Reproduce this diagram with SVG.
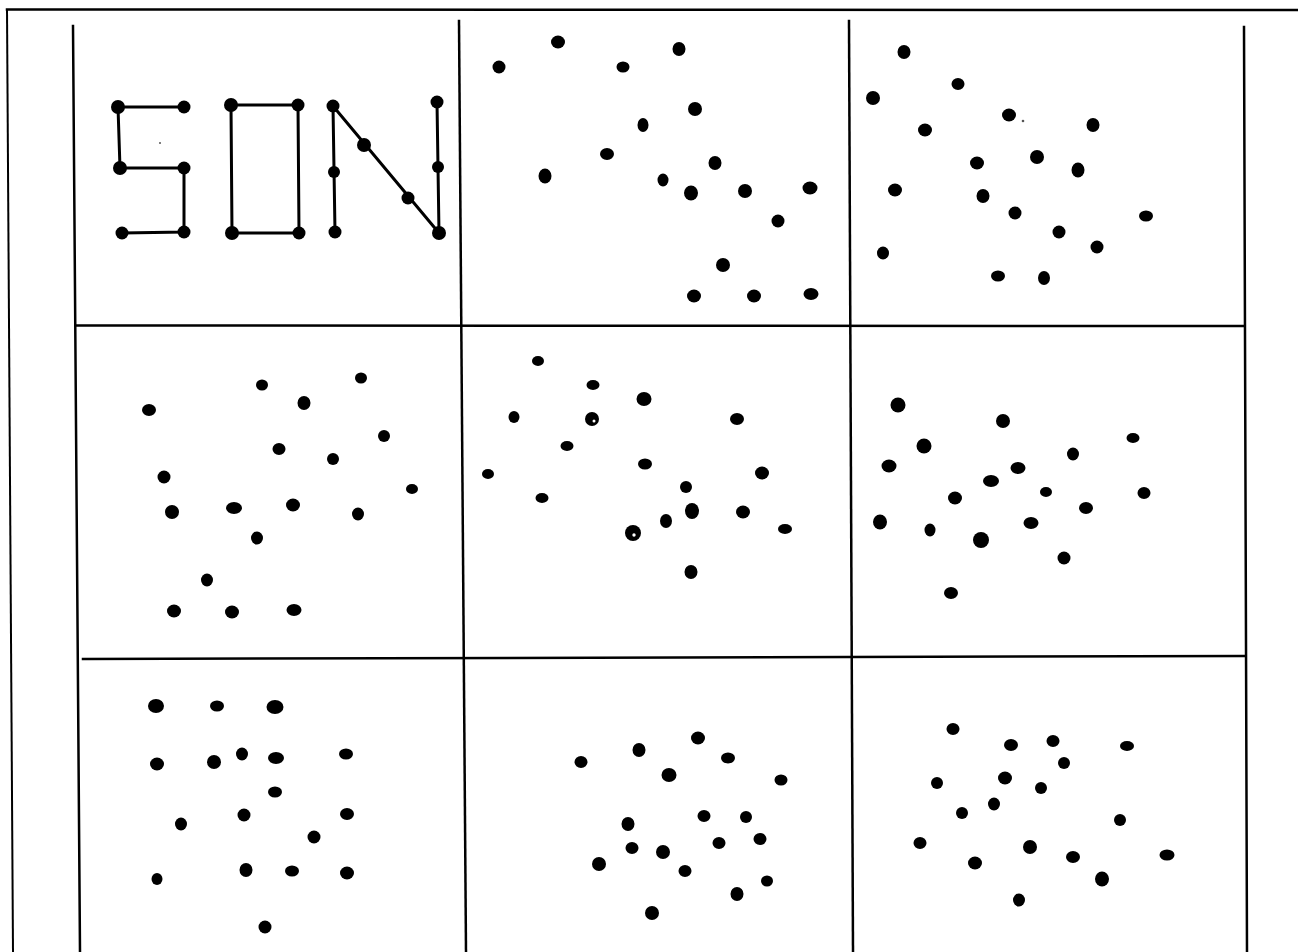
<svg xmlns="http://www.w3.org/2000/svg" width="1298" height="952" viewBox="0 0 1298 952">
<style>
.grid{stroke:#000;stroke-width:2.5;fill:none;stroke-linecap:square}
.frame{stroke:#000;stroke-width:2;fill:none}
.stroke{stroke:#000;stroke-width:3;fill:none;stroke-linecap:round}
.dot{fill:#000}
.speck{fill:#555}
.hole{fill:#fff}
</style>
<rect x="0" y="0" width="1298" height="952" fill="#fff"/>
<g id="grid-lines">
<line class="frame" x1="7" y1="9" x2="13" y2="952"/>
<line class="grid" x1="7" y1="9.5" x2="1298" y2="10"/>
<line class="grid" x1="73" y1="26" x2="80" y2="952"/>
<line class="grid" x1="459" y1="21" x2="466" y2="952"/>
<line class="grid" x1="849" y1="21" x2="853" y2="952"/>
<line class="grid" x1="1244" y1="27" x2="1247" y2="952"/>
<line class="grid" x1="76" y1="325.5" x2="1244" y2="326"/>
<line class="grid" x1="83" y1="659" x2="1245" y2="656"/>
</g>
<g id="cell-1-son">
<polyline class="stroke" points="184,107 118,107 120,168 184,168 184,232 122,233"/>
<polygon class="stroke" points="231,105 298,105 299,233 232,233"/>
<polyline class="stroke" points="335,232 333,106 439,233 437,102"/>
<circle class="dot" cx="118" cy="107" r="7"/>
<circle class="dot" cx="184" cy="107" r="6.5"/>
<circle class="dot" cx="120" cy="168" r="7"/>
<circle class="dot" cx="184" cy="168" r="6.5"/>
<circle class="dot" cx="122" cy="233" r="6.5"/>
<circle class="dot" cx="184" cy="232" r="6.5"/>
<circle class="dot" cx="231" cy="105" r="7"/>
<circle class="dot" cx="298" cy="105" r="6.5"/>
<circle class="dot" cx="232" cy="233" r="7"/>
<circle class="dot" cx="299" cy="233" r="6.5"/>
<circle class="dot" cx="333" cy="106" r="6.5"/>
<circle class="dot" cx="334" cy="172" r="6"/>
<circle class="dot" cx="335" cy="232" r="6.5"/>
<circle class="dot" cx="437" cy="102" r="6.5"/>
<circle class="dot" cx="438" cy="167" r="6"/>
<circle class="dot" cx="439" cy="233" r="7"/>
<circle class="dot" cx="364" cy="145" r="7"/>
<circle class="dot" cx="408" cy="198" r="6.5"/>
<circle class="speck" cx="160" cy="143" r="1"/>
</g>
<g id="cell-2">
<ellipse class="dot" cx="558" cy="42" rx="7" ry="6.5"/>
<ellipse class="dot" cx="499" cy="67" rx="6.5" ry="6.5"/>
<ellipse class="dot" cx="679" cy="49" rx="6.5" ry="7"/>
<ellipse class="dot" cx="623" cy="67" rx="6.5" ry="5.5"/>
<ellipse class="dot" cx="695" cy="109" rx="7" ry="7"/>
<ellipse class="dot" cx="643" cy="125" rx="5.5" ry="7"/>
<ellipse class="dot" cx="607" cy="154" rx="7" ry="6"/>
<ellipse class="dot" cx="545" cy="176" rx="6.5" ry="7.5"/>
<ellipse class="dot" cx="715" cy="163" rx="6.5" ry="7"/>
<ellipse class="dot" cx="663" cy="180" rx="5.5" ry="6.5"/>
<ellipse class="dot" cx="691" cy="193" rx="7" ry="7.5"/>
<ellipse class="dot" cx="745" cy="191" rx="7" ry="7"/>
<ellipse class="dot" cx="810" cy="188" rx="7.5" ry="6.5"/>
<ellipse class="dot" cx="778" cy="221" rx="6.5" ry="6.5"/>
<ellipse class="dot" cx="723" cy="265" rx="7" ry="7"/>
<ellipse class="dot" cx="694" cy="296" rx="7" ry="6.5"/>
<ellipse class="dot" cx="754" cy="296" rx="7" ry="6.5"/>
<ellipse class="dot" cx="811" cy="294" rx="7.5" ry="6"/>
</g>
<g id="cell-3">
<ellipse class="dot" cx="904" cy="52" rx="6.5" ry="7"/>
<ellipse class="dot" cx="958" cy="84" rx="6.5" ry="6"/>
<ellipse class="dot" cx="873" cy="98" rx="7" ry="7"/>
<ellipse class="dot" cx="1009" cy="115" rx="7" ry="6.5"/>
<ellipse class="dot" cx="1093" cy="125" rx="6.5" ry="7"/>
<ellipse class="dot" cx="925" cy="130" rx="7" ry="6.5"/>
<ellipse class="dot" cx="977" cy="163" rx="7" ry="6.5"/>
<ellipse class="dot" cx="1037" cy="157" rx="7" ry="7"/>
<ellipse class="dot" cx="1078" cy="170" rx="6.5" ry="7.5"/>
<ellipse class="dot" cx="895" cy="190" rx="7" ry="6.5"/>
<ellipse class="dot" cx="983" cy="196" rx="6.5" ry="7"/>
<ellipse class="dot" cx="1015" cy="213" rx="6.5" ry="6.5"/>
<ellipse class="dot" cx="1146" cy="216" rx="7" ry="5.5"/>
<ellipse class="dot" cx="1059" cy="232" rx="6.5" ry="6.5"/>
<ellipse class="dot" cx="1097" cy="247" rx="6.5" ry="6.5"/>
<ellipse class="dot" cx="883" cy="253" rx="6" ry="6.5"/>
<ellipse class="dot" cx="998" cy="276" rx="7" ry="5.5"/>
<ellipse class="dot" cx="1044" cy="278" rx="6" ry="7"/>
<circle class="speck" cx="1023" cy="121" r="1.3"/>
</g>
<g id="cell-4">
<ellipse class="dot" cx="149" cy="410" rx="7" ry="6"/>
<ellipse class="dot" cx="262" cy="385" rx="6" ry="5.5"/>
<ellipse class="dot" cx="361" cy="378" rx="6" ry="5.5"/>
<ellipse class="dot" cx="304" cy="403" rx="6.5" ry="7"/>
<ellipse class="dot" cx="384" cy="436" rx="6" ry="6"/>
<ellipse class="dot" cx="279" cy="449" rx="6.5" ry="6"/>
<ellipse class="dot" cx="333" cy="459" rx="6" ry="6"/>
<ellipse class="dot" cx="164" cy="477" rx="6.5" ry="6.5"/>
<ellipse class="dot" cx="412" cy="489" rx="6" ry="5"/>
<ellipse class="dot" cx="172" cy="512" rx="7" ry="7"/>
<ellipse class="dot" cx="234" cy="508" rx="8" ry="6"/>
<ellipse class="dot" cx="293" cy="505" rx="7" ry="6.5"/>
<ellipse class="dot" cx="358" cy="514" rx="6" ry="6.5"/>
<ellipse class="dot" cx="257" cy="538" rx="6" ry="6.5"/>
<ellipse class="dot" cx="207" cy="580" rx="6" ry="6.5"/>
<ellipse class="dot" cx="174" cy="611" rx="7" ry="6.5"/>
<ellipse class="dot" cx="232" cy="612" rx="7" ry="6.5"/>
<ellipse class="dot" cx="294" cy="610" rx="7.5" ry="6"/>
</g>
<g id="cell-5">
<ellipse class="dot" cx="538" cy="361" rx="6" ry="5"/>
<ellipse class="dot" cx="593" cy="385" rx="6.5" ry="5"/>
<ellipse class="dot" cx="644" cy="399" rx="7.5" ry="7"/>
<ellipse class="dot" cx="514" cy="417" rx="5.5" ry="6"/>
<ellipse class="dot" cx="592" cy="419" rx="7" ry="7"/>
<circle class="hole" cx="594" cy="421" r="1.5"/>
<ellipse class="dot" cx="737" cy="419" rx="7" ry="6"/>
<ellipse class="dot" cx="567" cy="446" rx="6.5" ry="5"/>
<ellipse class="dot" cx="645" cy="464" rx="7" ry="5.5"/>
<ellipse class="dot" cx="488" cy="474" rx="6" ry="5"/>
<ellipse class="dot" cx="762" cy="473" rx="7" ry="6.5"/>
<ellipse class="dot" cx="686" cy="487" rx="6" ry="6"/>
<ellipse class="dot" cx="542" cy="498" rx="6.5" ry="5"/>
<ellipse class="dot" cx="692" cy="511" rx="7" ry="8"/>
<ellipse class="dot" cx="743" cy="512" rx="7" ry="6.5"/>
<ellipse class="dot" cx="666" cy="521" rx="6" ry="7"/>
<ellipse class="dot" cx="633" cy="533" rx="8" ry="8"/>
<circle class="hole" cx="634" cy="535" r="1.7"/>
<ellipse class="dot" cx="785" cy="529" rx="7" ry="5"/>
<ellipse class="dot" cx="691" cy="572" rx="6.5" ry="7"/>
</g>
<g id="cell-6">
<ellipse class="dot" cx="898" cy="405" rx="7.5" ry="7.5"/>
<ellipse class="dot" cx="1003" cy="421" rx="7" ry="7"/>
<ellipse class="dot" cx="1133" cy="438" rx="6.5" ry="5"/>
<ellipse class="dot" cx="924" cy="446" rx="7.5" ry="7.5"/>
<ellipse class="dot" cx="1073" cy="454" rx="6" ry="6.5"/>
<ellipse class="dot" cx="889" cy="466" rx="7.5" ry="6.5"/>
<ellipse class="dot" cx="1018" cy="468" rx="7.5" ry="6"/>
<ellipse class="dot" cx="991" cy="481" rx="8" ry="6"/>
<ellipse class="dot" cx="1046" cy="492" rx="6" ry="5"/>
<ellipse class="dot" cx="1144" cy="493" rx="6.5" ry="6"/>
<ellipse class="dot" cx="955" cy="498" rx="7" ry="6.5"/>
<ellipse class="dot" cx="1086" cy="508" rx="7" ry="6"/>
<ellipse class="dot" cx="880" cy="522" rx="7" ry="7.5"/>
<ellipse class="dot" cx="1031" cy="523" rx="7.5" ry="6"/>
<ellipse class="dot" cx="930" cy="530" rx="5.5" ry="6.5"/>
<ellipse class="dot" cx="981" cy="540" rx="8" ry="8"/>
<ellipse class="dot" cx="1064" cy="558" rx="6.5" ry="6.5"/>
<ellipse class="dot" cx="951" cy="593" rx="7" ry="6"/>
</g>
<g id="cell-7">
<ellipse class="dot" cx="156" cy="706" rx="8" ry="7"/>
<ellipse class="dot" cx="217" cy="706" rx="7" ry="5.5"/>
<ellipse class="dot" cx="275" cy="707" rx="8.5" ry="7"/>
<ellipse class="dot" cx="157" cy="764" rx="7" ry="6.5"/>
<ellipse class="dot" cx="214" cy="762" rx="7" ry="7"/>
<ellipse class="dot" cx="242" cy="754" rx="6" ry="6.5"/>
<ellipse class="dot" cx="276" cy="758" rx="8" ry="6"/>
<ellipse class="dot" cx="346" cy="754" rx="7" ry="5.5"/>
<ellipse class="dot" cx="275" cy="792" rx="7" ry="5.5"/>
<ellipse class="dot" cx="244" cy="815" rx="6.5" ry="6.5"/>
<ellipse class="dot" cx="347" cy="814" rx="7" ry="6"/>
<ellipse class="dot" cx="181" cy="824" rx="6" ry="6.5"/>
<ellipse class="dot" cx="314" cy="837" rx="6.5" ry="6.5"/>
<ellipse class="dot" cx="246" cy="870" rx="6.5" ry="7"/>
<ellipse class="dot" cx="292" cy="871" rx="7" ry="5.5"/>
<ellipse class="dot" cx="347" cy="873" rx="7" ry="6.5"/>
<ellipse class="dot" cx="157" cy="879" rx="5.5" ry="6"/>
<ellipse class="dot" cx="265" cy="927" rx="6.5" ry="6.5"/>
</g>
<g id="cell-8">
<ellipse class="dot" cx="698" cy="738" rx="7" ry="6.5"/>
<ellipse class="dot" cx="639" cy="750" rx="6.5" ry="7"/>
<ellipse class="dot" cx="581" cy="762" rx="6.5" ry="6"/>
<ellipse class="dot" cx="728" cy="758" rx="7" ry="5.5"/>
<ellipse class="dot" cx="669" cy="775" rx="7.5" ry="7"/>
<ellipse class="dot" cx="781" cy="780" rx="6.5" ry="5.5"/>
<ellipse class="dot" cx="704" cy="816" rx="6.5" ry="6"/>
<ellipse class="dot" cx="746" cy="817" rx="6" ry="6"/>
<ellipse class="dot" cx="628" cy="824" rx="6.5" ry="7"/>
<ellipse class="dot" cx="760" cy="839" rx="6.5" ry="6"/>
<ellipse class="dot" cx="719" cy="843" rx="6.5" ry="6"/>
<ellipse class="dot" cx="632" cy="848" rx="6.5" ry="6"/>
<ellipse class="dot" cx="663" cy="852" rx="7" ry="7"/>
<ellipse class="dot" cx="599" cy="864" rx="7" ry="7"/>
<ellipse class="dot" cx="685" cy="871" rx="6.5" ry="6"/>
<ellipse class="dot" cx="767" cy="881" rx="6" ry="5.5"/>
<ellipse class="dot" cx="737" cy="894" rx="6.5" ry="7"/>
<ellipse class="dot" cx="652" cy="913" rx="7" ry="7"/>
</g>
<g id="cell-9">
<ellipse class="dot" cx="953" cy="729" rx="6.5" ry="6"/>
<ellipse class="dot" cx="1011" cy="745" rx="7" ry="6"/>
<ellipse class="dot" cx="1053" cy="741" rx="6.5" ry="6"/>
<ellipse class="dot" cx="1127" cy="746" rx="7" ry="5"/>
<ellipse class="dot" cx="1064" cy="763" rx="6" ry="6"/>
<ellipse class="dot" cx="1005" cy="778" rx="7" ry="6.5"/>
<ellipse class="dot" cx="937" cy="783" rx="6" ry="6"/>
<ellipse class="dot" cx="1041" cy="788" rx="6" ry="6"/>
<ellipse class="dot" cx="994" cy="804" rx="6" ry="6.5"/>
<ellipse class="dot" cx="962" cy="813" rx="6" ry="6"/>
<ellipse class="dot" cx="1120" cy="820" rx="6" ry="6"/>
<ellipse class="dot" cx="920" cy="843" rx="6.5" ry="6"/>
<ellipse class="dot" cx="1030" cy="847" rx="7" ry="7"/>
<ellipse class="dot" cx="975" cy="863" rx="7" ry="6.5"/>
<ellipse class="dot" cx="1073" cy="857" rx="7" ry="6"/>
<ellipse class="dot" cx="1167" cy="855" rx="7.5" ry="5.5"/>
<ellipse class="dot" cx="1102" cy="879" rx="7" ry="7.5"/>
<ellipse class="dot" cx="1019" cy="900" rx="6" ry="6.5"/>
</g>
</svg>
